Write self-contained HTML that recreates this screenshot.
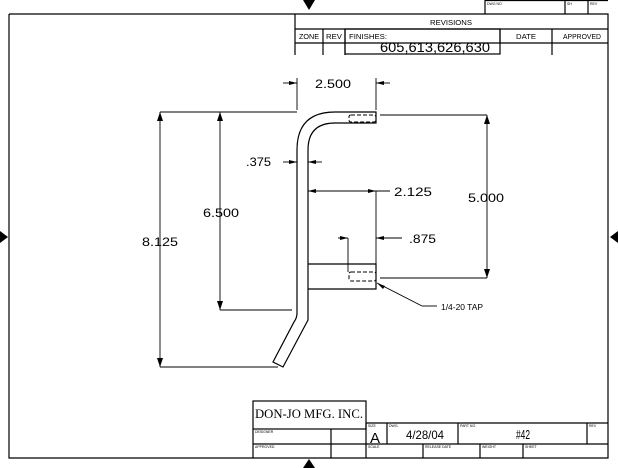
<!DOCTYPE html>
<html><head><style>body{margin:0;background:#fff}svg{display:block}text{font-family:"Liberation Sans",sans-serif;fill:#000}</style></head><body>
<svg width="618" height="468" viewBox="0 0 618 468" xmlns="http://www.w3.org/2000/svg">
<g stroke="#000" stroke-width="1.2" fill="none">
<polyline points="9,14 608,14 608,458 9,458 9,14"/>
<line x1="295" y1="14" x2="295" y2="55"/>
<line x1="295" y1="29" x2="608" y2="29"/>
<line x1="295" y1="43" x2="608" y2="43"/>
<line x1="323" y1="29" x2="323" y2="55"/>
<line x1="345" y1="29" x2="345" y2="55"/>
<rect x="345" y="29" width="155" height="25"/>
<line x1="500" y1="29" x2="500" y2="43"/>
<line x1="552" y1="29" x2="552" y2="55"/>
<line x1="485" y1="0" x2="485" y2="14"/>
<line x1="485" y1="0.5" x2="608" y2="0.5"/>
<line x1="565" y1="0" x2="565" y2="14"/>
<line x1="588" y1="0" x2="588" y2="14"/>
<rect x="253" y="401" width="113" height="28"/>
<line x1="253" y1="429" x2="253" y2="458"/>
<line x1="366" y1="423" x2="608" y2="423"/>
<line x1="253" y1="444" x2="608" y2="444"/>
<line x1="331" y1="429" x2="331" y2="458"/>
<line x1="366" y1="423" x2="366" y2="458"/>
<line x1="387" y1="423" x2="387" y2="444"/>
<line x1="458" y1="423" x2="458" y2="444"/>
<line x1="587" y1="423" x2="587" y2="444"/>
<line x1="423" y1="444" x2="423" y2="458"/>
<line x1="480" y1="444" x2="480" y2="458"/>
<line x1="523" y1="444" x2="523" y2="458"/>
<path d="M297,313 L297,150 Q297,112 335,112 L376,112 L376,123 L335,123 Q308,123 308,150 L308,320 L283,367 L273,362 L294,322 Q297,318 297,313"/>
<path d="M308,264 L376,264 L376,289 L308,289"/>
<g stroke-dasharray="4,2" stroke-width="1"><rect x="349" y="115" width="27" height="7" rx="2"/><rect x="349" y="272" width="27" height="9" rx="2"/></g>
<g stroke-width="0.9">
<line x1="160" y1="112" x2="297" y2="112"/><line x1="160" y1="367" x2="278" y2="367"/>
<line x1="160" y1="112" x2="160" y2="367"/>
<line x1="220" y1="310" x2="292" y2="310"/><line x1="220" y1="112" x2="220" y2="310"/>
<line x1="380" y1="115" x2="487" y2="115"/><line x1="380" y1="278" x2="487" y2="278"/><line x1="487" y1="115" x2="487" y2="278"/>
<line x1="297" y1="78" x2="297" y2="110"/><line x1="376" y1="78" x2="376" y2="110"/>
<line x1="283" y1="83" x2="297" y2="83"/><line x1="376" y1="83" x2="390" y2="83"/>
<line x1="283" y1="162" x2="297" y2="162"/><line x1="308" y1="162" x2="322" y2="162"/>
<line x1="308" y1="191" x2="390" y2="191"/><line x1="376" y1="191" x2="376" y2="264"/>
<line x1="338" y1="238" x2="348" y2="238"/><line x1="348" y1="238" x2="348" y2="272"/><line x1="376" y1="238" x2="402" y2="238"/>
<line x1="377" y1="283" x2="422" y2="306"/><line x1="422" y1="306" x2="437" y2="306"/>
</g>
</g>
<g fill="#000">
<polygon points="160,112 157,121 163,121"/><polygon points="160,367 157,358 163,358"/>
<polygon points="220,112 217,121 223,121"/><polygon points="220,310 217,301 223,301"/>
<polygon points="487,115 484,124 490,124"/><polygon points="487,278 484,269 490,269"/>
<polygon points="297,83 289,81 289,85"/><polygon points="376,83 384,81 384,85"/>
<polygon points="297,162 289,160 289,164"/><polygon points="308,162 316,160 316,164"/>
<polygon points="308,191 316,189 316,193"/><polygon points="376,191 368,189 368,193"/>
<polygon points="348,238 340,236 340,240"/><polygon points="376,238 384,236 384,240"/>
<polygon points="377,283 383,289 385,286"/>
<polygon points="303,0 315,0 309,10"/><polygon points="303,468 315,468 309,459"/>
<polygon points="0,231 0,243 8,237"/><polygon points="618,231 618,243 610,237"/>
</g>
<g font-size="12">
<text x="315" y="88" textLength="36" lengthAdjust="spacingAndGlyphs">2.500</text>
<text x="246" y="166" textLength="25" lengthAdjust="spacingAndGlyphs">.375</text>
<text x="394" y="196" textLength="38" lengthAdjust="spacingAndGlyphs">2.125</text>
<text x="203" y="217" textLength="36" lengthAdjust="spacingAndGlyphs">6.500</text>
<text x="142" y="246" textLength="36" lengthAdjust="spacingAndGlyphs">8.125</text>
<text x="468" y="202" textLength="36" lengthAdjust="spacingAndGlyphs">5.000</text>
<text x="409" y="243" textLength="27" lengthAdjust="spacingAndGlyphs">.875</text>
</g>
<text x="441" y="310" font-size="8" textLength="42" lengthAdjust="spacingAndGlyphs">1/4-20 TAP</text>
<g font-size="7">
<text x="430" y="25" textLength="42" lengthAdjust="spacingAndGlyphs">REVISIONS</text>
<text x="299" y="39" textLength="20" lengthAdjust="spacingAndGlyphs">ZONE</text><text x="326" y="39" textLength="16" lengthAdjust="spacingAndGlyphs">REV</text><text x="349" y="39" textLength="38" lengthAdjust="spacingAndGlyphs">FINISHES:</text>
<text x="516" y="39" textLength="20" lengthAdjust="spacingAndGlyphs">DATE</text><text x="563" y="39" textLength="38" lengthAdjust="spacingAndGlyphs">APPROVED</text>
</g>
<text x="380" y="52" font-size="14" textLength="110" lengthAdjust="spacingAndGlyphs">605,613,626,630</text>
<text x="255" y="418" font-size="13" textLength="108" lengthAdjust="spacingAndGlyphs" style="font-family:'Liberation Serif',serif">DON-JO MFG. INC.</text>
<text x="370" y="443" font-size="15">A</text>
<text x="406" y="439" font-size="12" textLength="38" lengthAdjust="spacingAndGlyphs">4/28/04</text>
<text x="516" y="439" font-size="13" textLength="14" lengthAdjust="spacingAndGlyphs">#42</text>
<g font-size="3.5"><text x="255" y="433">DESIGNER</text><text x="255" y="448">APPROVED</text><text x="368" y="427">SIZE</text><text x="389" y="427">DWG.</text><text x="460" y="427">PART NO.</text><text x="589" y="427">REV</text><text x="368" y="448">SCALE</text><text x="425" y="448">RELEASE DATE</text><text x="482" y="448">WEIGHT</text><text x="525" y="448">SHEET</text><text x="487" y="5">DWG NO</text><text x="567" y="5">SH</text><text x="590" y="5">REV</text></g>
</svg>
</body></html>
